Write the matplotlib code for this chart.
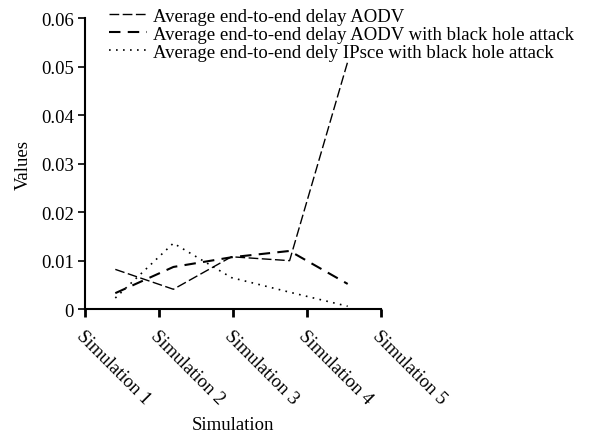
import matplotlib.pyplot as plt
import numpy as np

plt.rcParams['font.family'] = ['Liberation Serif', 'DejaVu Serif']

simulations = ['Simulation 1', 'Simulation 2', 'Simulation 3', 'Simulation 4', 'Simulation 5']
delay_aodv = [0.0082, 0.0041, 0.0108, 0.0100, 0.0510]
delay_aodv_blackhole = [0.0033, 0.0087, 0.0107, 0.0120, 0.0052]
delay_ipsec_blackhole = [0.0023, 0.0136, 0.0065, 0.0035, 0.0006]

labels = ['Average end-to-end delay AODV',
          'Average end-to-end delay AODV with black hole attack',
          'Average end-to-end dely IPsce with black hole attack']


def main():
    fig = plt.figure(figsize=(5.95, 4.35), dpi=100)
    ax = fig.add_axes([0.143, 0.287, 0.497, 0.669])

    # data points sit between the category ticks, as in the original
    x = np.arange(len(simulations))
    ax.plot(x, delay_aodv, color='black', lw=1.0, dashes=(7, 2.5), label=labels[0])
    ax.plot(x, delay_aodv_blackhole, color='black', lw=1.5, dashes=(5.5, 3.5), label=labels[1])
    ax.plot(x, delay_ipsec_blackhole, color='black', lw=1.2, dashes=(1, 3.2), label=labels[2])

    xmin, xmax = -0.52, 4.57
    ax.set_xlim(xmin, xmax)
    ax.set_ylim(0, 0.06)
    ax.set_xticks(np.linspace(xmin, xmax, len(simulations)))
    ax.set_xticklabels(simulations, rotation=-45, ha='left', va='top',
                       rotation_mode='anchor', fontsize=13.5)
    ax.set_yticks(np.arange(0, 0.061, 0.01))
    ax.set_yticklabels(['0', '0.01', '0.02', '0.03', '0.04', '0.05', '0.06'], fontsize=13.5)

    for side in ('top', 'right'):
        ax.spines[side].set_visible(False)
    ax.spines['left'].set_linewidth(1.5)
    ax.spines['bottom'].set_linewidth(1.5)
    ax.tick_params(axis='y', direction='out', length=5, width=1.2, pad=3)
    ax.tick_params(axis='x', direction='out', length=6, width=2, pad=7)

    ax.set_xlabel('Simulation', fontsize=13.5, labelpad=6)
    ax.set_ylabel('Values', fontsize=13.5, labelpad=7)

    fig.legend(loc='upper left', bbox_to_anchor=(0.165, 1.006), frameon=False,
               fontsize=13.5, handlelength=2.0, handletextpad=0.3,
               labelspacing=0.05, borderaxespad=0.2)

    fig.savefig('out.png', dpi=100)


if __name__ == '__main__':
    main()
